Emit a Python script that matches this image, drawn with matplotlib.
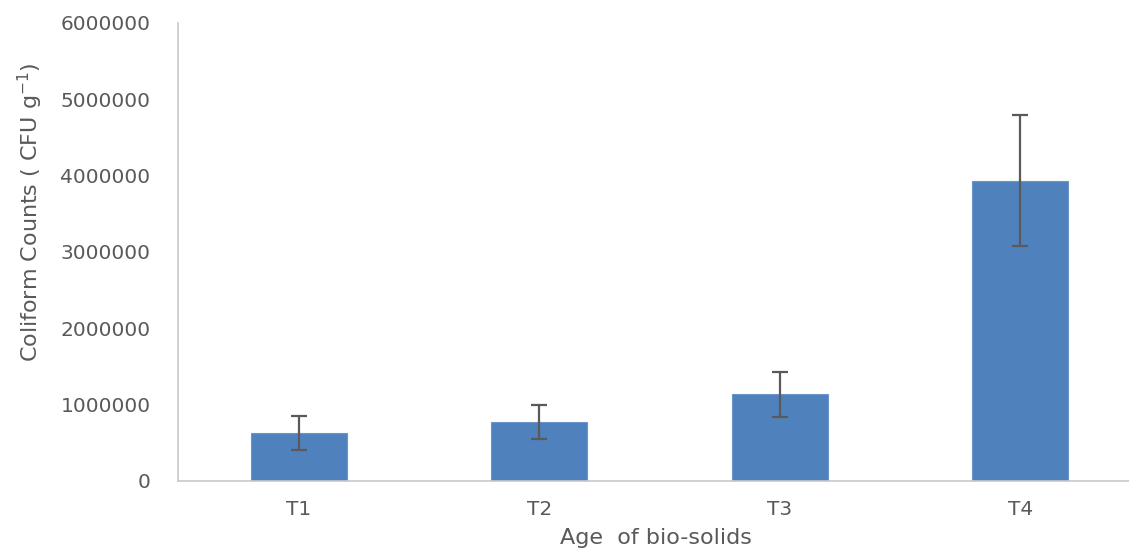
import matplotlib
matplotlib.use("Agg")
import matplotlib.pyplot as plt

categories = ["T1", "T2", "T3", "T4"]
values = [625000, 765000, 1130000, 3930000]
errors = [225000, 225000, 290000, 860000]
yticks = [0, 1000000, 2000000, 3000000, 4000000, 5000000, 6000000]

W, H = 1129, 550
fig = plt.figure(figsize=(W / 100, H / 100), dpi=100)
ax = fig.add_axes([178.4 / W, (H - 480.7) / H, 962 / W, 458 / H])

gray = "#595959"
x = range(len(categories))
ax.bar(x, values, width=0.4, color="#4f81bd", edgecolor="#6b96cc", linewidth=0.8,
       yerr=errors, error_kw=dict(ecolor="#5a5a5a", elinewidth=1.6, capsize=6, capthick=1.6))

ax.set_xlim(-0.5, len(categories) - 0.5)
ax.set_ylim(0, 6000000)
ax.set_yticks(yticks)
ax.set_yticklabels([str(v) for v in yticks])
ax.set_xticks(list(x))
ax.set_xticklabels(categories)
ax.tick_params(axis="both", length=0, colors=gray, labelsize=14.5)
ax.tick_params(axis="y", pad=20)
ax.tick_params(axis="x", pad=14)
for lab in ax.get_yticklabels() + ax.get_xticklabels():
    lab.set_family("DejaVu Sans")

for s in ["top", "right"]:
    ax.spines[s].set_visible(False)
ax.spines["left"].set_color("#c8c8c8")
ax.spines["bottom"].set_color("#c8c8c8")
ax.spines["left"].set_linewidth(1.2)
ax.spines["bottom"].set_linewidth(1.2)

fig.text(30 / W, 1 - 212 / H, "Coliform Counts ( CFU g$^{-1}$)", rotation=90,
         ha="center", va="center", color=gray, fontsize=16)
fig.text(656 / W, 2 / H, "Age  of bio-solids", ha="center", va="bottom",
         color=gray, fontsize=16)

fig.savefig("out.png", dpi=100, facecolor="white")
